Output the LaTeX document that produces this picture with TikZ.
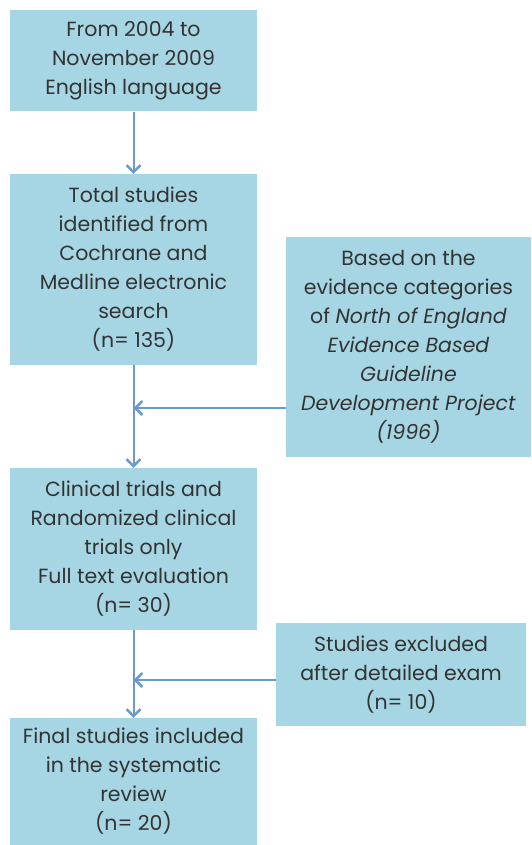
\documentclass[tikz,border=0pt]{standalone}
\usepackage{fontspec}
\setmainfont{Poppins}
\usetikzlibrary{arrows.meta}
\definecolor{boxfill}{HTML}{A6D6E3}
\definecolor{arrowc}{HTML}{6B9AD0}
\definecolor{txt}{HTML}{333333}
\begin{document}
\begin{tikzpicture}[x=1pt,y=-1pt,
  box/.style={fill=boxfill, draw=none, align=center, text=txt, inner sep=0pt,
     font=\fontsize{20.5}{29}\selectfont},
  conn/.style={draw=arrowc, line width=2pt,
     -{Straight Barb[length=7pt,width=14pt,line width=2.5pt]}},
  side/.style={draw=arrowc, line width=1.6pt,
     -{Straight Barb[length=7pt,width=14pt,line width=2.5pt]}}]
\useasboundingbox (0,0) rectangle (531,845);
\node[box, minimum width=247pt, minimum height=101pt] (b1) at (133.5,61)
  {From 2004 to\\November 2009\\English language};
\node[box, minimum width=247pt, minimum height=191pt] (b2) at (133.5,269.5)
  {Total studies\\identified from\\Cochrane and\\Medline electronic\\search\\(n= 135)};
\node[box, minimum width=245pt, minimum height=220pt] (b3) at (408.5,347)
  {Based on the\\evidence categories\\of \textit{North of England}\\\textit{Evidence Based}\\\textit{Guideline}\\\textit{Development Project}\\\textit{(1996)}};
\node[box, minimum width=247pt, minimum height=162pt] (b4) at (133.5,549)
  {Clinical trials and\\Randomized clinical\\trials only\\Full text evaluation\\(n= 30)};
\node[box, minimum width=250pt, minimum height=103pt] (b5) at (401,674.5)
  {Studies excluded\\after detailed exam\\(n= 10)};
\node[box, minimum width=247pt, minimum height=127pt] (b6) at (133.5,781.5)
  {Final studies included\\in the systematic\\review\\(n= 20)};
\coordinate (j1) at (133.5,408);
\coordinate (j2) at (133.5,680);
\draw[conn] (b1) -- (b2);
\draw[conn] (b2) -- (b4);
\draw[side] (b3.west |- j1) -- (j1);
\draw[conn] (b4) -- (b6);
\draw[side] (b5.west |- j2) -- (j2);
\end{tikzpicture}
\end{document}
